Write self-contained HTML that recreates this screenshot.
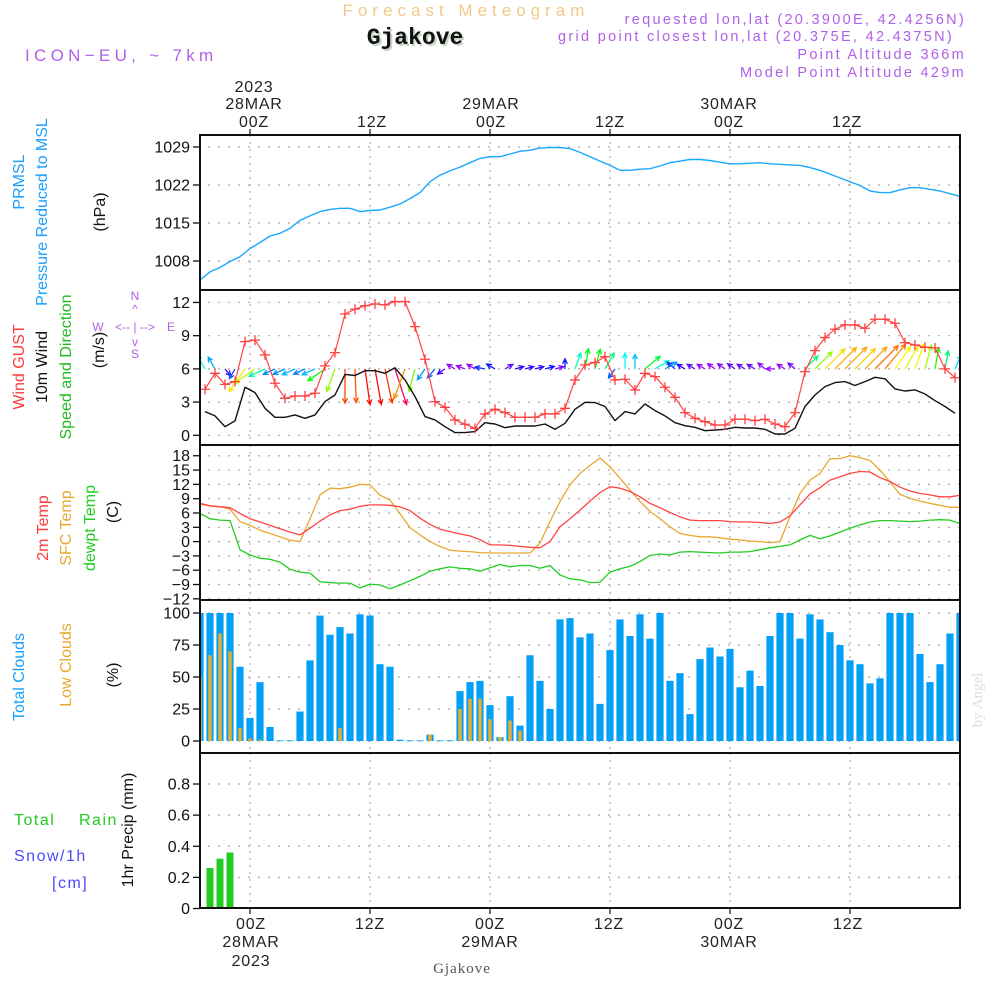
<!DOCTYPE html>
<html>
<head>
<meta charset="utf-8">
<style>
  html,body{margin:0;padding:0;background:#fff;}
  svg{display:block;font-family:"Liberation Sans",sans-serif;}
</style>
</head>
<body>
<svg id="chart" width="1000" height="1000" viewBox="0 0 1000 1000" xmlns="http://www.w3.org/2000/svg">
  <defs>
    <clipPath id="plotclip"><rect x="200" y="135" width="760" height="775"/></clipPath>
  </defs>
  <rect x="0" y="0" width="1000" height="1000" fill="#fff"/>
  <!-- header -->
  <text x="466" y="16" text-anchor="middle" font-size="17" fill="#f2c98a" letter-spacing="5">Forecast Meteogram</text>
  <text x="417" y="46" text-anchor="middle" font-size="23" font-weight="bold" font-family="Liberation Mono, monospace" fill="#c8d8c8">Gjakove</text>
  <text x="415" y="44" text-anchor="middle" font-size="23" font-weight="bold" font-family="Liberation Mono, monospace" fill="#111">Gjakove</text>
  <text x="25" y="61" font-size="17" fill="#b060e8" letter-spacing="4.3">ICON−EU, ~ 7km</text>
  <g font-size="14.5" fill="#b060e8" text-anchor="end" letter-spacing="2.3">
    <text x="966" y="24">requested lon,lat (20.3900E, 42.4256N)</text>
    <text x="954" y="41">grid point closest lon,lat (20.375E, 42.4375N)</text>
    <text x="966" y="59">Point Altitude 366m</text>
    <text x="966" y="77">Model Point Altitude 429m</text>
  </g>
  <!-- top time labels -->
  <g font-size="16" fill="#222" text-anchor="middle" letter-spacing="0.8">
    <text x="254" y="92">2023</text>
    <text x="254" y="109">28MAR</text>
    <text x="254" y="127">00Z</text>
    <text x="372" y="127">12Z</text>
    <text x="491" y="109">29MAR</text>
    <text x="491" y="127">00Z</text>
    <text x="610" y="127">12Z</text>
    <text x="729" y="109">30MAR</text>
    <text x="729" y="127">00Z</text>
    <text x="847" y="127">12Z</text>
  </g>
  <!-- bottom time labels -->
  <g font-size="16" fill="#222" text-anchor="middle" letter-spacing="0.8">
    <text x="251" y="929">00Z</text>
    <text x="251" y="947">28MAR</text>
    <text x="251" y="966">2023</text>
    <text x="370" y="929">12Z</text>
    <text x="490" y="929">00Z</text>
    <text x="490" y="947">29MAR</text>
    <text x="609" y="929">12Z</text>
    <text x="729" y="929">00Z</text>
    <text x="729" y="947">30MAR</text>
    <text x="848" y="929">12Z</text>
  </g>
  <text x="462" y="973" text-anchor="middle" font-size="15" font-family="Liberation Serif, serif" fill="#555" letter-spacing="1">Gjakove</text>
  <text transform="translate(982,700) rotate(-90)" text-anchor="middle" font-size="15" font-family="Liberation Serif, serif" fill="#ddd">by Angel</text>

  <!-- left labels -->
  <g font-size="16" text-anchor="middle">
    <text transform="translate(24,182) rotate(-90)" fill="#1a9fff">PRMSL</text>
    <text transform="translate(47,212) rotate(-90)" fill="#1a9fff">Pressure Reduced to MSL</text>
    <text transform="translate(105,212) rotate(-90)" fill="#111">(hPa)</text>
  </g>
  <g font-size="16" text-anchor="middle">
    <text transform="translate(24,367) rotate(-90)" fill="#ff3b3b">Wind GUST</text>
    <text transform="translate(47,367) rotate(-90)" fill="#111">10m Wind</text>
    <text transform="translate(71,367) rotate(-90)" fill="#22bb22">Speed and Direction</text>
    <text transform="translate(104,350) rotate(-90)" fill="#111">(m/s)</text>
  </g>
  <g font-size="12" fill="#b060e8" text-anchor="middle">
    <text x="135" y="300">N</text>
    <text x="135" y="313">^</text>
    <text x="135" y="331">&lt;-- | --&gt;</text>
    <text x="98" y="331">W</text>
    <text x="171" y="331">E</text>
    <text x="135" y="346">v</text>
    <text x="135" y="358">S</text>
  </g>
  <g font-size="16" text-anchor="middle">
    <text transform="translate(48,528) rotate(-90)" fill="#ff3b3b">2m Temp</text>
    <text transform="translate(71,528) rotate(-90)" fill="#e8a830">SFC Temp</text>
    <text transform="translate(95,528) rotate(-90)" fill="#22cc22">dewpt Temp</text>
    <text transform="translate(118,512) rotate(-90)" fill="#111">(C)</text>
  </g>
  <g font-size="16" text-anchor="middle">
    <text transform="translate(24,677) rotate(-90)" fill="#1a9fff">Total Clouds</text>
    <text transform="translate(71,665) rotate(-90)" fill="#e8a830">Low Clouds</text>
    <text transform="translate(118,675) rotate(-90)" fill="#111">(%)</text>
  </g>
  <g font-size="16">
    <text x="14" y="825" fill="#22cc22" letter-spacing="1.5">Total</text>
    <text x="79" y="825" fill="#22cc22" letter-spacing="1.5">Rain</text>
    <text x="14" y="861" fill="#4a4aff" letter-spacing="1.5">Snow/1h</text>
    <text x="52" y="888" fill="#4a4aff" letter-spacing="1.5">[cm]</text>
    <text transform="translate(133,830) rotate(-90)" text-anchor="middle" fill="#111">1hr Precip (mm)</text>
  </g>

  <g id="grid"></g>
  <g id="marks" clip-path="url(#plotclip)"></g>
  <g id="frames"></g>
  <g id="ticks"></g>
</svg>
<script>
// ---------------- data ----------------
const hours = []; for (let h = -5; h <= 71; h++) hours.push(h);
const pressure = [1004.5,1006.0,1006.8,1007.9,1008.8,1010.3,1011.4,1012.6,1013.1,1014.0,1015.5,1016.3,1017.1,1017.5,1017.7,1017.7,1017.1,1017.3,1017.4,1017.9,1018.5,1019.5,1020.6,1022.6,1023.8,1024.6,1025.3,1026.1,1026.9,1027.2,1027.2,1027.7,1028.2,1028.4,1028.8,1028.9,1028.9,1028.7,1028.0,1027.2,1026.4,1025.6,1024.7,1024.7,1024.9,1025.0,1025.5,1026.1,1026.4,1026.7,1026.7,1026.5,1026.2,1025.9,1025.9,1026.0,1026.1,1025.9,1025.8,1025.7,1025.6,1025.2,1024.7,1024.0,1023.3,1022.6,1021.9,1020.9,1020.6,1020.6,1021.1,1021.5,1021.5,1021.2,1020.9,1020.4,1019.9];
const windHours = []; for (let k = 0; k < 76; k++) windHours.push(-4.5 + k);
const gust = [4.16,5.6,4.6,4.85,8.46,8.6,7.26,4.7,3.34,3.55,3.55,3.8,6.27,7.47,10.96,11.4,11.7,11.87,11.78,12.08,12.08,9.82,6.87,3.04,2.53,1.39,1.0,0.63,1.93,2.35,2.05,1.63,1.63,1.63,1.93,1.93,2.44,5.0,6.36,6.57,7.1,5.0,5.06,4.1,5.6,5.3,4.34,3.43,2.05,1.54,1.23,0.93,0.93,1.45,1.45,1.33,1.45,1.02,0.78,2.05,5.75,7.65,8.83,9.58,9.97,9.97,9.67,10.48,10.48,10.12,8.37,8.16,7.95,7.9,6.0,5.2];
const windSpeed = [2.14,1.75,0.78,1.3,4.34,3.86,2.44,1.63,1.63,1.84,1.54,1.84,3.04,3.64,5.5,5.4,5.84,5.84,5.6,6.1,5.0,3.5,1.69,1.39,0.78,0.24,0.24,0.33,1.14,1.02,0.69,0.84,0.84,0.84,1.02,0.54,1.08,2.35,2.98,2.95,2.6,1.33,2.14,1.93,2.83,2.23,1.75,1.14,0.87,0.72,0.42,0.48,0.54,0.72,0.66,0.66,0.54,0.12,0.12,0.63,2.6,3.64,4.4,4.76,4.85,4.5,4.85,5.24,5.1,4.19,4.0,4.1,3.73,3.13,2.6,1.99];
const windDirTo = [330,330,140,210,215,235,245,245,245,245,245,245,235,200,180,178,172,170,168,162,200,195,215,220,235,300,290,300,280,300,60,75,75,75,75,75,0,20,10,15,30,215,0,0,50,60,60,310,300,300,300,305,305,305,300,300,310,270,300,310,45,45,45,45,45,45,45,45,40,35,30,20,15,10,10,25];
const temp2m = [8.0,7.5,7.3,7.1,5.9,4.8,4.1,3.4,2.7,2.0,1.4,2.8,4.3,5.6,6.5,6.8,7.4,7.7,7.7,7.6,7.3,6.5,4.9,3.6,2.6,2.1,1.6,1.2,0.4,-0.7,-0.7,-0.8,-1.0,-1.2,-1.3,0.0,3.1,4.8,6.6,8.5,10.3,11.5,11.2,10.5,9.4,8.0,7.1,6.1,5.2,4.5,4.4,4.4,4.4,4.2,4.1,4.1,4.0,3.8,4.1,5.4,7.7,10.0,11.3,12.9,13.6,14.3,14.7,14.6,13.4,12.6,11.4,10.6,10.1,9.8,9.4,9.4,9.7];
const tempSfc = [7.8,7.5,7.3,6.8,4.2,3.4,2.4,1.7,1.0,0.3,0.0,4.8,9.8,11.2,11.1,11.4,12.0,11.9,9.7,8.7,5.9,2.9,1.4,0.0,-1.0,-1.8,-2.0,-2.1,-2.3,-2.4,-2.4,-2.4,-2.4,-2.4,-0.3,4.2,8.4,11.9,14.3,16.0,17.5,15.7,13.3,10.8,8.4,6.3,4.8,3.1,1.7,1.3,1.0,1.0,0.8,0.5,0.35,0.1,0.0,-0.2,0.0,5.2,10.1,12.9,14.3,17.4,17.4,18.0,17.6,17.0,15.0,12.5,9.9,9.1,8.5,8.0,7.6,7.2,7.2];
const dewpt = [5.9,4.8,4.5,4.4,-1.7,-2.8,-3.5,-3.7,-4.3,-5.8,-6.4,-6.6,-8.4,-8.6,-8.7,-8.7,-9.7,-8.9,-9.1,-9.9,-9.1,-8.2,-7.3,-6.2,-5.7,-5.3,-5.6,-5.7,-6.2,-5.5,-4.8,-5.3,-5.0,-5.0,-5.6,-5.0,-7.0,-7.8,-8.0,-8.6,-8.5,-6.4,-5.7,-5.2,-4.2,-2.9,-2.6,-2.8,-2.2,-2.1,-2.2,-2.3,-2.4,-2.2,-2.2,-2.1,-1.7,-1.3,-1.0,-0.7,0.35,1.3,0.6,1.2,2.0,2.8,3.5,4.1,4.4,4.4,4.3,4.2,4.3,4.5,4.6,4.5,3.8];
const totalClouds = [100,100,100,100,58,18,46,11,0.5,0.5,23,63,98,83,89,84,99,98,60,58,1,0.5,0.5,5,0.5,0.5,39,46,47,28,3,35,12,67,47,25,95,96,81,84,29,71,95,82,99,80,100,47,53,21,64,73,66,72,42,55,43,82,100,100,80,99,95,85,75,63,60,45,49,100,100,100,68,46,60,84,100];
const lowClouds = [50,67,84,70,10,2,1,0,0,0,0,0,0,0,10,0,0,0,0,0,0,0,0,5,0,0,25,33,33,17,3,16,8,0,0,0,0,0,0,0,0,0,0,0,0,0,0,0,0,0,0,0,0,0,0,0,0,0,0,0,0,0,0,0,0,0,0,0,0,0,0,0,0,0,0,0,0];
const precipHours = [-4,-3,-2];
const precipRain = [0.26,0.32,0.36];

const pressTicks = [1008,1015,1022,1029];
const windTicks = [0,3,6,9,12];
const tempTicks = [-12,-9,-6,-3,0,3,6,9,12,15,18];
const cloudTicks = [0,25,50,75,100];
const precipTicks = [0,0.2,0.4,0.6,0.8];
const timeGridHours = [0,12,24,36,48,60];

// ---------------- scales ----------------
const X0 = 200, X1 = 960;
const xOf = h => 250 + 10 * h;
const yP = v => 261 - (v - 1008) * 5.43;
const yW = v => 435.3 - v * 11.07;
const yT = v => 541.6 - v * 4.77;
const yC = v => 741 - v * 1.28;
const yR = v => 908.5 - v * 155.6;
const panels = [[135,290],[290,445],[445,600],[600,753],[753,908]];

const NS = 'http://www.w3.org/2000/svg';
function mk(tag, attrs, parent) {
  const e = document.createElementNS(NS, tag);
  for (const k in attrs) e.setAttribute(k, attrs[k]);
  parent.appendChild(e);
  return e;
}
const grid = document.getElementById('grid');
const marks = document.getElementById('marks');
const frames = document.getElementById('frames');
const ticks = document.getElementById('ticks');

panels.forEach(p => {
  timeGridHours.forEach(h => {
    const l = mk('line', {x1: xOf(h), x2: xOf(h), y1: p[0], y2: p[1], stroke: '#aaa', 'stroke-width': 1.2, 'stroke-dasharray': '2,5'}, grid);
    
    
  });
});
function hgrid(vals, yf, fmt, name, skipGrid) {
  vals.forEach(v => {
    const y = yf(v);
    if (!skipGrid || !skipGrid(v)) {
      const l = mk('line', {x1: X0 + 8, x2: X1, y1: y, y2: y, stroke: '#aaa', 'stroke-width': 1.2, 'stroke-dasharray': '2,8'}, grid);
      
      
    }
    const t = mk('line', {x1: X0 - 7, x2: X0, y1: y, y2: y, stroke: '#111', 'stroke-width': 1.3}, ticks);
    
    
    const tx = mk('text', {x: X0 - 10, y: y + 5.5, 'text-anchor': 'end', 'font-size': 16, fill: '#111'}, ticks);
    tx.textContent = fmt(v);
    
    
  });
}
hgrid(pressTicks, yP, v => String(v), 'pressure-axis');
hgrid(windTicks, yW, v => String(v), 'wind-axis');
hgrid(tempTicks, yT, v => (v < 0 ? '\u2212' + (-v) : String(v)), 'temperature-axis');
hgrid(cloudTicks, yC, v => String(v), 'cloud-axis');
hgrid(precipTicks, yR, v => (v === 0 ? '0' : v.toFixed(1)), 'precip-axis', v => v === 0);

timeGridHours.forEach(h => {
  const a = mk('line', {x1: xOf(h), x2: xOf(h), y1: 129, y2: 135, stroke: '#111', 'stroke-width': 1.2}, ticks);
  
  
  const b = mk('line', {x1: xOf(h), x2: xOf(h), y1: 908, y2: 914, stroke: '#111', 'stroke-width': 1.2}, ticks);
  
  
});

function path(xs, ys, color, w, name) {
  let d = '';
  xs.forEach((x, i) => { d += (i ? 'L' : 'M') + x.toFixed(1) + ',' + ys[i].toFixed(1); });
  const p = mk('path', {d: d, fill: 'none', stroke: color, 'stroke-width': w, 'stroke-linejoin': 'round'}, marks);
  
  
  return p;
}

path(hours.map(xOf), pressure.map(yP), '#1aa8ff', 1.4, 'pressure-line');

hours.forEach((h, i) => {
  const v = totalClouds[i];
  const b = mk('rect', {x: xOf(h) - 3.6, y: yC(v), width: 7.2, height: Math.max(0.8, yC(0) - yC(v)), fill: '#049ff7'}, marks);
  
  
  const lv = lowClouds[i];
  if (lv > 0) {
    const c = mk('rect', {x: xOf(h) - 1.7, y: yC(lv), width: 3.4, height: yC(0) - yC(lv), fill: '#e8b030'}, marks);
    
    
  }
});

precipHours.forEach((h, i) => {
  const v = precipRain[i];
  const b = mk('rect', {x: xOf(h) - 3.5, y: yR(v), width: 7, height: yR(0) - yR(v), fill: '#22cc22'}, marks);
  
  
});

path(hours.map(xOf), tempSfc.map(yT), '#e8a830', 1.3, 'sfc-temp-line');
path(hours.map(xOf), temp2m.map(yT), '#ff4444', 1.3, '2m-temp-line');
path(hours.map(xOf), dewpt.map(yT), '#22cc22', 1.3, 'dewpoint-line');

function speedColor(s) {
  const stops = [[0.5,275],[1.2,225],[2.0,190],[3.0,120],[4.0,65],[5.0,35],[5.8,5],[6.3,-35]];
  let hue = stops[0][1];
  if (s >= stops[stops.length - 1][0]) hue = stops[stops.length - 1][1];
  else for (let i = 0; i < stops.length - 1; i++) {
    if (s >= stops[i][0] && s < stops[i + 1][0]) {
      const t = (s - stops[i][0]) / (stops[i + 1][0] - stops[i][0]);
      hue = stops[i][1] + t * (stops[i + 1][1] - stops[i][1]);
    }
  }
  return 'hsl(' + ((hue + 360) % 360) + ',95%,50%)';
}
windHours.forEach((h, k) => {
  const s = windSpeed[k], d = windDirTo[k] * Math.PI / 180;
  const L = Math.max(9, 5.5 * s + 4);
  const bx = xOf(h), by = yW(6);
  const tx = bx + L * Math.sin(d), ty = by - L * Math.cos(d);
  const col = speedColor(s);
  const ang = Math.atan2(ty - by, tx - bx);
  const hl = 5.5;
  const a1 = ang + Math.PI - 0.45, a2 = ang + Math.PI + 0.45;
  const dd = 'M' + bx.toFixed(1) + ',' + by.toFixed(1) + 'L' + tx.toFixed(1) + ',' + ty.toFixed(1) +
    'M' + (tx + hl * Math.cos(a1)).toFixed(1) + ',' + (ty + hl * Math.sin(a1)).toFixed(1) + 'L' + tx.toFixed(1) + ',' + ty.toFixed(1) +
    'L' + (tx + hl * Math.cos(a2)).toFixed(1) + ',' + (ty + hl * Math.sin(a2)).toFixed(1);
  const p = mk('path', {d: dd, fill: 'none', stroke: col, 'stroke-width': 1.3}, marks);
  
  
});
path(windHours.map(xOf), windSpeed.map(yW), '#111', 1.4, 'wind-speed-line');
path(windHours.map(xOf), gust.map(yW), '#ff4444', 1.2, 'wind-gust-line');
windHours.forEach((h, k) => {
  const x = xOf(h), y = yW(gust[k]);
  const p = mk('path', {d: 'M' + (x - 5) + ',' + y + 'h10M' + x + ',' + (y - 5) + 'v10', stroke: '#ff4040', 'stroke-width': 1.3}, marks);
  
  
});

panels.forEach((p, i) => {
  const r = mk('rect', {x: X0, y: p[0], width: X1 - X0, height: p[1] - p[0], fill: 'none', stroke: '#111', 'stroke-width': 2}, frames);
  
  
});
</script>
</body>
</html>
